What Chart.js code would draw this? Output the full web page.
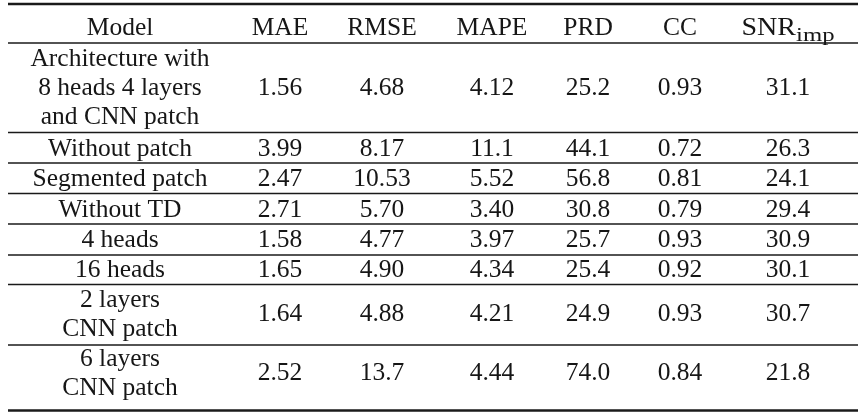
<!DOCTYPE html>
<html><head><meta charset="utf-8">
<script src="https://cdn.jsdelivr.net/npm/chart.js@4.4.1/dist/chart.umd.min.js"></script>
<style>html,body{margin:0;padding:0;background:#fff}#wrap{width:867px;height:416px}</style>
</head><body><div id="wrap"><canvas id="c" width="867" height="416"></canvas></div>
<script>
// ---- data ----
const headers = ["Model", "MAE", "RMSE", "MAPE", "PRD", "CC", "SNR"];
const headerSub = ["", "", "", "", "", "", "imp"];
const models = [
  ["Architecture with", "8 heads 4 layers", "and CNN patch"],
  ["Without patch"],
  ["Segmented patch"],
  ["Without TD"],
  ["4 heads"],
  ["16 heads"],
  ["2 layers", "CNN patch"],
  ["6 layers", "CNN patch"]
];
const mae  = ["1.56", "3.99", "2.47", "2.71", "1.58", "1.65", "1.64", "2.52"];
const rmse = ["4.68", "8.17", "10.53", "5.70", "4.77", "4.90", "4.88", "13.7"];
const mape = ["4.12", "11.1", "5.52", "3.40", "3.97", "4.34", "4.21", "4.44"];
const prd  = ["25.2", "44.1", "56.8", "30.8", "25.7", "25.4", "24.9", "74.0"];
const cc   = ["0.93", "0.72", "0.81", "0.79", "0.93", "0.92", "0.93", "0.84"];
const snr  = ["31.1", "26.3", "24.1", "29.4", "30.9", "30.1", "30.7", "21.8"];

// ---- layout (positions in scale units) ----
const colX = [120, 280, 382, 492, 588, 680, 788];
const rowBase = [95, 156, 186, 216.5, 247, 277, 321, 380];
const headBase = 35;
const linePitch = 29;
const ruleLeft = 8, ruleRight = 858;
const rules = [
  {y: 4, w: 2.6}, {y: 43, w: 1.3}, {y: 132.5, w: 1.3}, {y: 163, w: 1.3},
  {y: 193.5, w: 1.3}, {y: 224, w: 1.3}, {y: 255, w: 1.3}, {y: 284.5, w: 1.3},
  {y: 345, w: 1.3}, {y: 410.5, w: 2.6}
];
const FONT = "'Liberation Serif', 'Times New Roman', serif";
const FS = 25.5;
const SUBFS = 19;
const TXT = "#161616";

const valueCols = [mae, rmse, mape, prd, cc, snr];

const datasets = [{
  label: headers[0],
  data: models.map((m, i) => ({x: colX[0], y: rowBase[i], t: m})),
  pointRadius: 0, showLine: false
}].concat(valueCols.map((arr, c) => ({
  label: headers[c + 1],
  data: arr.map((v, i) => ({x: colX[c + 1], y: rowBase[i], t: [v]})),
  pointRadius: 0, showLine: false
})));

const tablePlugin = {
  id: 'tableText',
  afterDatasetsDraw(chart) {
    const ctx = chart.ctx;
    const xs = chart.scales.x, ys = chart.scales.y;
    ctx.save();
    // rules
    ctx.strokeStyle = "#1a1a1a";
    rules.forEach(r => {
      ctx.lineWidth = r.w;
      ctx.beginPath();
      const y = ys.getPixelForValue(r.y);
      ctx.moveTo(xs.getPixelForValue(ruleLeft), y);
      ctx.lineTo(xs.getPixelForValue(ruleRight), y);
      ctx.stroke();
    });
    ctx.fillStyle = TXT;
    ctx.textBaseline = 'alphabetic';
    ctx.textAlign = 'left';
    // headers
    headers.forEach((h, c) => {
      const cx = xs.getPixelForValue(colX[c]);
      const by = ys.getPixelForValue(headBase);
      const sub = headerSub[c];
      ctx.font = FS + "px " + FONT;
      if (!sub) {
        const w = ctx.measureText(h).width;
        ctx.fillText(h, cx - w / 2, by);
        return;
      }
      // math-style header: widened main text + subscript
      const sx1 = 1.1, sx2 = 1.3;
      const w1 = ctx.measureText(h).width * sx1;
      ctx.font = SUBFS + "px " + FONT;
      const w2 = ctx.measureText(sub).width * sx2;
      const start = cx - (w1 + w2) / 2;
      ctx.save();
      ctx.translate(start, by);
      ctx.scale(sx1, 1);
      ctx.font = FS + "px " + FONT;
      ctx.fillText(h, 0, 0);
      ctx.restore();
      ctx.save();
      ctx.translate(start + w1, by + 5.5);
      ctx.scale(sx2, 1);
      ctx.font = SUBFS + "px " + FONT;
      ctx.fillText(sub, 0, 0);
      ctx.restore();
    });
    // cells
    ctx.textAlign = 'center';
    ctx.font = FS + "px " + FONT;
    chart.data.datasets.forEach((ds, di) => {
      const meta = chart.getDatasetMeta(di);
      meta.data.forEach((pt, i) => {
        const lines = ds.data[i].t;
        const n = lines.length;
        lines.forEach((ln, j) => {
          const off = (j - (n - 1) / 2) * linePitch;
          ctx.fillText(ln, pt.x, pt.y + off);
        });
      });
    });
    ctx.restore();
  }
};

new Chart(document.getElementById('c'), {
  type: 'scatter',
  data: {datasets},
  options: {
    responsive: false,
    animation: false,
    events: [],
    layout: {padding: 0},
    plugins: {legend: {display: false}, tooltip: {enabled: false}},
    scales: {
      x: {type: 'linear', min: 0, max: 867, display: false},
      y: {type: 'linear', min: 0, max: 416, reverse: true, display: false}
    }
  },
  plugins: [tablePlugin]
});
</script>
</body></html>
